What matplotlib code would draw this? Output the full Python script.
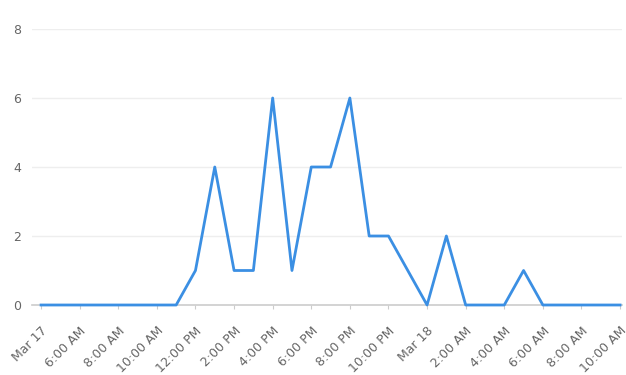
import matplotlib
matplotlib.use("Agg")
import matplotlib.pyplot as plt

# hours since Mar 17 00:00
hours = list(range(4, 35))
values = [0, 0, 0, 0, 0, 0, 0, 0, 1, 4, 1, 1, 6, 1, 4, 4, 6, 2, 2, 1, 0, 2, 0, 0, 0, 1, 0, 0, 0, 0, 0]
tick_hours = [4, 6, 8, 10, 12, 14, 16, 18, 20, 22, 24, 26, 28, 30, 32, 34]
tick_labels = ["Mar 17", "6:00 AM", "8:00 AM", "10:00 AM", "12:00 PM", "2:00 PM", "4:00 PM",
               "6:00 PM", "8:00 PM", "10:00 PM", "Mar 18", "2:00 AM", "4:00 AM", "6:00 AM",
               "8:00 AM", "10:00 AM"]
y_ticks = [0, 2, 4, 6, 8]

W, H = 626, 375
fig = plt.figure(figsize=(W / 100, H / 100), dpi=100)
left, right = 32, 622
top, bottom = 29, 305
ax = fig.add_axes([left / W, 1 - bottom / H, (right - left) / W, (bottom - top) / H])

ax.plot(hours, values, color="#3b8fe3", linewidth=2.0, clip_on=False, zorder=3)
ax.set_xlim(3.53, 34.1)
ax.set_ylim(0, 8)

for s in ["top", "right", "left"]:
    ax.spines[s].set_visible(False)
ax.spines["bottom"].set_color("#cccccc")
ax.spines["bottom"].set_linewidth(1.2)

ax.set_yticks(y_ticks)
ax.set_yticklabels([str(v) for v in y_ticks], color="#666666", fontsize=9)
ax.tick_params(axis="y", length=0, pad=8)
for yv in y_ticks[1:]:
    ax.axhline(yv, color="#eeeeee", linewidth=1, zorder=1)

ax.set_xticks(tick_hours)
ax.set_xticklabels(tick_labels, rotation=45, ha="right", rotation_mode="anchor",
                   color="#666666", fontsize=9)
ax.tick_params(axis="x", length=3, color="#cccccc", pad=11)

fig.savefig("out.png", dpi=100, facecolor="white")
